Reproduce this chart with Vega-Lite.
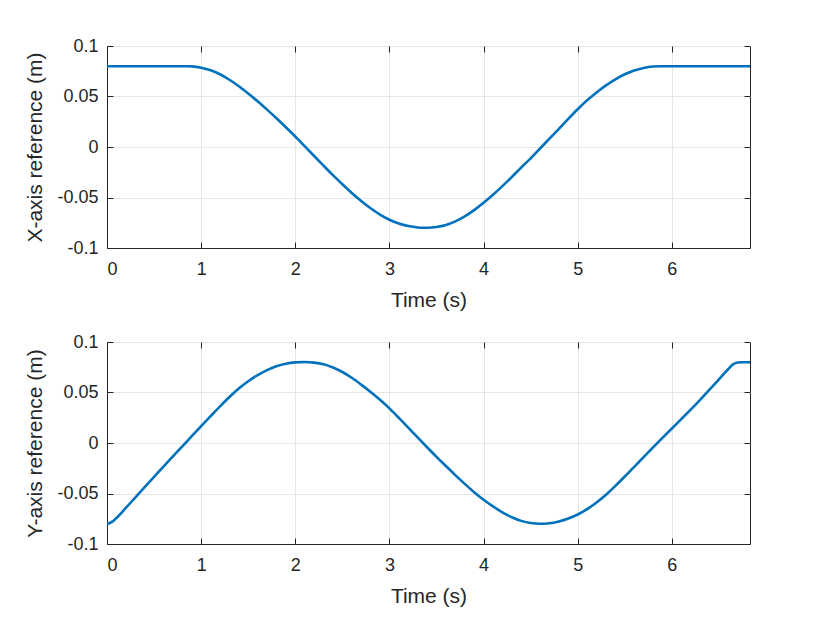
{
  "$schema": "https://vega.github.io/schema/vega-lite/v6.json",
  "background": "white",
  "padding": {"left": 24, "top": 36, "right": 10, "bottom": 10},
  "spacing": 21,
  "datasets": {
    "xref": [
      {"t": 0.0, "v": 0.08}, {"t": 0.5, "v": 0.08}, {"t": 0.85, "v": 0.08},
      {"t": 0.9, "v": 0.0798}, {"t": 1.0, "v": 0.0785}, {"t": 1.1, "v": 0.076},
      {"t": 1.2, "v": 0.072}, {"t": 1.3, "v": 0.0666}, {"t": 1.4, "v": 0.0602},
      {"t": 1.5, "v": 0.053}, {"t": 1.6, "v": 0.0452}, {"t": 1.7, "v": 0.037},
      {"t": 1.8, "v": 0.0285}, {"t": 1.9, "v": 0.0196}, {"t": 2.0, "v": 0.0104},
      {"t": 2.1, "v": 0.0008}, {"t": 2.2, "v": -0.0089}, {"t": 2.3, "v": -0.0185},
      {"t": 2.4, "v": -0.0279}, {"t": 2.5, "v": -0.0369}, {"t": 2.6, "v": -0.0455},
      {"t": 2.7, "v": -0.0535}, {"t": 2.8, "v": -0.0607}, {"t": 2.9, "v": -0.0669},
      {"t": 3.0, "v": -0.072}, {"t": 3.1, "v": -0.0758}, {"t": 3.2, "v": -0.0783},
      {"t": 3.3, "v": -0.0797}, {"t": 3.37, "v": -0.08}, {"t": 3.45, "v": -0.0797},
      {"t": 3.5, "v": -0.0792}, {"t": 3.6, "v": -0.0772}, {"t": 3.7, "v": -0.0736},
      {"t": 3.8, "v": -0.0687}, {"t": 3.9, "v": -0.0625}, {"t": 4.0, "v": -0.0553},
      {"t": 4.1, "v": -0.0473}, {"t": 4.2, "v": -0.0387}, {"t": 4.3, "v": -0.0297},
      {"t": 4.4, "v": -0.0203}, {"t": 4.5, "v": -0.0112}, {"t": 4.6, "v": -0.0015},
      {"t": 4.7, "v": 0.0083}, {"t": 4.8, "v": 0.018}, {"t": 4.9, "v": 0.0279},
      {"t": 5.0, "v": 0.0374}, {"t": 5.1, "v": 0.0462}, {"t": 5.2, "v": 0.054},
      {"t": 5.3, "v": 0.061}, {"t": 5.4, "v": 0.067}, {"t": 5.5, "v": 0.072},
      {"t": 5.6, "v": 0.0758}, {"t": 5.7, "v": 0.0783}, {"t": 5.8, "v": 0.0797},
      {"t": 5.87, "v": 0.08}, {"t": 6.3, "v": 0.08}, {"t": 6.83, "v": 0.08}
    ],
    "yref": [
      {"t": 0.0, "v": -0.08}, {"t": 0.03, "v": -0.0792}, {"t": 0.06, "v": -0.0776},
      {"t": 0.1, "v": -0.0742}, {"t": 0.2, "v": -0.0643}, {"t": 0.3, "v": -0.054},
      {"t": 0.4, "v": -0.0437}, {"t": 0.5, "v": -0.0335}, {"t": 0.6, "v": -0.0234},
      {"t": 0.7, "v": -0.0133}, {"t": 0.8, "v": -0.0033}, {"t": 0.9, "v": 0.0067},
      {"t": 1.0, "v": 0.0167}, {"t": 1.1, "v": 0.0265}, {"t": 1.2, "v": 0.0362},
      {"t": 1.3, "v": 0.0455}, {"t": 1.4, "v": 0.054}, {"t": 1.5, "v": 0.0612},
      {"t": 1.6, "v": 0.0672}, {"t": 1.7, "v": 0.0722}, {"t": 1.8, "v": 0.076},
      {"t": 1.9, "v": 0.0785}, {"t": 2.0, "v": 0.0798}, {"t": 2.1, "v": 0.0802},
      {"t": 2.2, "v": 0.0796}, {"t": 2.3, "v": 0.078}, {"t": 2.4, "v": 0.0748},
      {"t": 2.5, "v": 0.0703}, {"t": 2.6, "v": 0.0646}, {"t": 2.7, "v": 0.0578},
      {"t": 2.8, "v": 0.0505}, {"t": 2.9, "v": 0.0428}, {"t": 3.0, "v": 0.0343},
      {"t": 3.1, "v": 0.0249}, {"t": 3.2, "v": 0.0152}, {"t": 3.3, "v": 0.0055},
      {"t": 3.4, "v": -0.0042}, {"t": 3.5, "v": -0.0137}, {"t": 3.6, "v": -0.0228},
      {"t": 3.7, "v": -0.0318}, {"t": 3.8, "v": -0.0405}, {"t": 3.9, "v": -0.0487},
      {"t": 4.0, "v": -0.0562}, {"t": 4.1, "v": -0.0628}, {"t": 4.2, "v": -0.0686},
      {"t": 4.3, "v": -0.0735}, {"t": 4.4, "v": -0.0771}, {"t": 4.5, "v": -0.0792},
      {"t": 4.6, "v": -0.08}, {"t": 4.7, "v": -0.0795}, {"t": 4.8, "v": -0.0777},
      {"t": 4.9, "v": -0.0748}, {"t": 5.0, "v": -0.0708}, {"t": 5.1, "v": -0.0655},
      {"t": 5.2, "v": -0.059}, {"t": 5.3, "v": -0.0513}, {"t": 5.4, "v": -0.0425},
      {"t": 5.5, "v": -0.0332}, {"t": 5.6, "v": -0.0236}, {"t": 5.7, "v": -0.014},
      {"t": 5.8, "v": -0.0044}, {"t": 5.9, "v": 0.0051}, {"t": 6.0, "v": 0.0144},
      {"t": 6.1, "v": 0.0237}, {"t": 6.2, "v": 0.0331}, {"t": 6.3, "v": 0.0428},
      {"t": 6.4, "v": 0.0528}, {"t": 6.5, "v": 0.063}, {"t": 6.6, "v": 0.0733},
      {"t": 6.65, "v": 0.0778}, {"t": 6.7, "v": 0.0797}, {"t": 6.75, "v": 0.08},
      {"t": 6.83, "v": 0.08}
    ]
  },
  "config": {
    "font": "Liberation Sans",
    "view": {"stroke": "#262626", "strokeWidth": 1},
    "axis": {
      "domainColor": "#262626",
      "tickColor": "#262626",
      "labelColor": "#262626",
      "titleColor": "#262626",
      "labelFont": "Liberation Sans",
      "titleFont": "Liberation Sans",
      "labelFontSize": 18,
      "titleFontSize": 21,
      "titleFontWeight": "normal",
      "gridColor": "#e6e6e6",
      "gridOpacity": 1,
      "tickSize": -6,
      "tickWidth": 1
    }
  },
  "vconcat": [
    {
      "width": 643,
      "height": 202,
      "data": {"name": "xref"},
      "resolve": {"axis": {"x": "independent", "y": "independent"}},
      "layer": [
        {
          "mark": {"type": "line", "color": "#0072BD", "strokeWidth": 2.6, "clip": true, "interpolate": "monotone"},
          "encoding": {
            "x": {"field": "t", "type": "quantitative", "scale": {"domain": [0, 6.83], "nice": false, "zero": false},
              "axis": {"title": "Time (s)", "values": [0, 1, 2, 3, 4, 5, 6], "labelPadding": 18, "titlePadding": 11, "labelExpr": "toString(datum.value)"}},
            "y": {"field": "v", "type": "quantitative", "scale": {"domain": [-0.1, 0.1], "nice": false, "zero": false},
              "axis": {"title": "X-axis reference (m)", "values": [-0.1, -0.05, 0, 0.05, 0.1], "labelPadding": 15, "titlePadding": 11, "labelExpr": "toString(datum.value)"}}
          }
        },
        {
          "mark": {"type": "line", "strokeOpacity": 0, "clip": true},
          "encoding": {
            "x": {"field": "t", "type": "quantitative",
              "axis": {"orient": "top", "title": null, "labels": false, "grid": false, "domain": false, "values": [0, 1, 2, 3, 4, 5, 6]}},
            "y": {"field": "v", "type": "quantitative",
              "axis": {"orient": "right", "title": null, "labels": false, "grid": false, "domain": false, "values": [-0.1, -0.05, 0, 0.05, 0.1]}}
          }
        }
      ]
    },
    {
      "width": 643,
      "height": 202,
      "data": {"name": "yref"},
      "resolve": {"axis": {"x": "independent", "y": "independent"}},
      "layer": [
        {
          "mark": {"type": "line", "color": "#0072BD", "strokeWidth": 2.6, "clip": true, "interpolate": "monotone"},
          "encoding": {
            "x": {"field": "t", "type": "quantitative", "scale": {"domain": [0, 6.83], "nice": false, "zero": false},
              "axis": {"title": "Time (s)", "values": [0, 1, 2, 3, 4, 5, 6], "labelPadding": 18, "titlePadding": 11, "labelExpr": "toString(datum.value)"}},
            "y": {"field": "v", "type": "quantitative", "scale": {"domain": [-0.1, 0.1], "nice": false, "zero": false},
              "axis": {"title": "Y-axis reference (m)", "values": [-0.1, -0.05, 0, 0.05, 0.1], "labelPadding": 15, "titlePadding": 11, "labelExpr": "toString(datum.value)"}}
          }
        },
        {
          "mark": {"type": "line", "strokeOpacity": 0, "clip": true},
          "encoding": {
            "x": {"field": "t", "type": "quantitative",
              "axis": {"orient": "top", "title": null, "labels": false, "grid": false, "domain": false, "values": [0, 1, 2, 3, 4, 5, 6]}},
            "y": {"field": "v", "type": "quantitative",
              "axis": {"orient": "right", "title": null, "labels": false, "grid": false, "domain": false, "values": [-0.1, -0.05, 0, 0.05, 0.1]}}
          }
        }
      ]
    }
  ]
}
